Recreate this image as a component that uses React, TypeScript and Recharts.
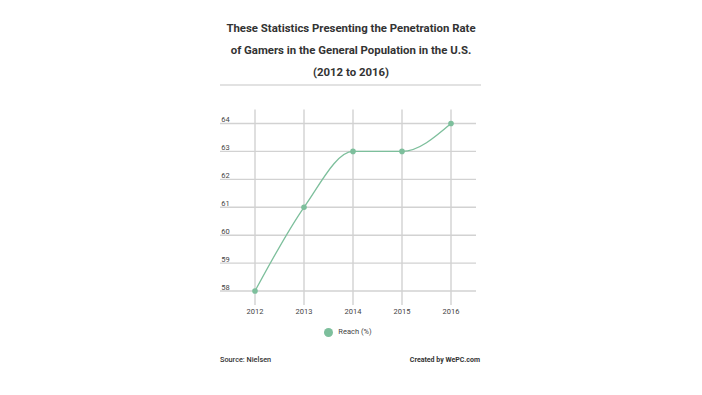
import React from 'react';
import { LineChart, Line, XAxis, YAxis, Legend, ReferenceLine } from 'recharts';

const years = ['2012', '2013', '2014', '2015', '2016'];
const reach = [58, 61, 63, 63, 64];
const yTicks = [58, 59, 60, 61, 62, 63, 64];
const titleLines = [
  'These Statistics Presenting the Penetration Rate',
  'of Gamers in the General Population in the U.S.',
  '(2012 to 2016)',
];

const data = years.map((y, i) => ({ year: y, reach: reach[i] }));

const GREEN = '#7dbf9c';
const GRID = '#d2d2d2';
const FONT = 'Roboto, "Open Sans", sans-serif';

export default function App() {
  return (
    <div style={{ position: 'absolute', left: 0, top: 0, width: 702, height: 395, background: '#fff', fontFamily: FONT }}>
      {titleLines.map((t, i) => (
        <div
          key={i}
          style={{
            position: 'absolute',
            left: 0,
            width: 702,
            top: 20 + i * 22,
            textAlign: 'center',
            fontSize: 11.4,
            fontWeight: 700,
            color: '#333',
            lineHeight: '16px',
          }}
        >
          {t}
        </div>
      ))}
      <div style={{ position: 'absolute', left: 220, top: 84, width: 261, height: 2, background: '#e2e2e2' }} />
      <LineChart
        width={702}
        height={395}
        data={data}
        margin={{ top: 100, right: 226, bottom: 70, left: 220 }}
        style={{ position: 'absolute', left: 0, top: 0 }}
      >
        <XAxis
          dataKey="year"
          padding={{ left: 35, right: 25 }}
          axisLine={false}
          tickLine={false}
          tickSize={0}
          tickMargin={4}
          height={20}
          tick={{ fontSize: 7.5, fill: '#444', fontFamily: FONT }}
        />
        <YAxis domain={[57.5, 64.5]} ticks={yTicks} hide />
        {yTicks.map((v) => (
          <ReferenceLine
            key={'h' + v}
            y={v}
            stroke={GRID}
            strokeWidth={1.4}
            label={{ value: String(v), position: 'insideBottomLeft', offset: 1.2, fontSize: 7.5, fill: '#444', fontFamily: FONT }}
          />
        ))}
        {years.map((y) => (
          <ReferenceLine key={'v' + y} x={y} stroke={GRID} strokeWidth={1.4} />
        ))}
        <Legend
          verticalAlign="top"
          iconType="circle"
          iconSize={9}
          wrapperStyle={{ top: 327, left: 2, width: 702, fontSize: 7.5, fontFamily: FONT }}
          formatter={(v: any) => <span style={{ color: '#444', marginLeft: 1 }}>{v}</span>}
        />
        <Line
          type="monotone"
          dataKey="reach"
          name="Reach (%)"
          stroke={GREEN}
          strokeWidth={1.3}
          dot={{ r: 2.8, fill: GREEN, stroke: GREEN, strokeWidth: 0 }}
          isAnimationActive={false}
        />
      </LineChart>
      <div style={{ position: 'absolute', left: 220, top: 355, fontSize: 7.3, fontWeight: 500, color: '#333' }}>
        Source: Nielsen
      </div>
      <div style={{ position: 'absolute', right: 702 - 480, top: 356, fontSize: 7, fontWeight: 700, color: '#333' }}>
        Created by WePC.com
      </div>
    </div>
  );
}
